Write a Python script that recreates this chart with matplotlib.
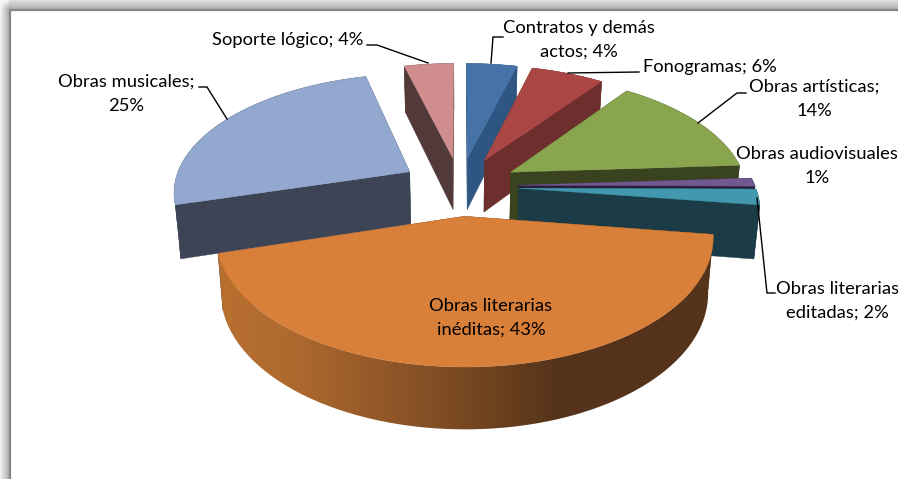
import numpy as np
import matplotlib
matplotlib.use("Agg")
import matplotlib.pyplot as plt
from matplotlib.patches import Polygon

# values in chart order, clockwise from 12 o'clock
categories = ["Contratos y demás actos", "Fonogramas", "Obras artísticas",
              "Obras audiovisuales", "Obras literarias editadas",
              "Obras literarias inéditas", "Obras musicales", "Soporte lógico"]
values = [4.1, 5.9, 14.0, 1.1, 2.1, 43.2, 25.5, 4.0]
labels = ["Contratos y demás\nactos; 4%", "Fonogramas; 6%", "Obras artísticas;\n14%",
          "Obras audiovisuales\n1%", "Obras literarias\neditadas; 2%",
          "Obras literarias\ninéditas; 43%", "Obras musicales;\n25%", "Soporte lógico; 4%"]
top_colors = ["#4572A7", "#AA4643", "#89A54E", "#71588F", "#4198AF", "#D87F3A", "#92A8CF", "#CF8E8D"]
wall_colors = ["#2F5683", "#6D2F2D", "#3A431F", "#2A1F3B", "#1B3B46", "#54331A", "#3D4456", "#533A3A"]

plt.rcParams['font.family'] = ['Lato', 'DejaVu Sans']

# projection of the 3d pie, pixels
cx, cy = 460, 186
rad_x, rad_y = 236, 117
persp, persp_h = 0.154, 0.12
height = 53
explode = 0.25


def project(x, y, depth=0.0):
    s = 1 / (1 + persp * y)
    sx = cx + rad_x * x * s
    sy = cy - rad_y * y * s
    if depth:
        sx = cx + (sx - cx) * (1 - 0.02 * depth)
        sy = sy + height * depth / (1 + persp_h * y)
    return sx, sy


fig = plt.figure(figsize=(8.98, 4.79), dpi=100)
ax = fig.add_axes([0, 0, 1, 1])

# gray shadow around the window
xx, yy = np.meshgrid(np.arange(898), np.arange(479))
left = np.clip(xx / 8, 0, 1)
top = np.clip(yy / 8, 0, 1)
gray = np.ones(xx.shape)
gray = np.where(xx < 9, 0.94 - 0.25 * left, gray)
gray = np.where((yy < 9) & (xx >= 9), 0.87 - 0.18 * top, gray)
gray = np.where((yy < 9) & (xx < 9), 0.96 - 0.27 * left * top, gray)
ax.imshow(gray, cmap="gray", vmin=0, vmax=1, extent=(0, 898, 479, 0), aspect="auto", zorder=0)
ax.plot([9.5, 9.5, 898], [479, 9.5, 9.5], color="#888888", lw=1.6, zorder=1)

total = sum(values)
edges = np.cumsum([0] + values) / total * 2 * np.pi
order = [7, 6, 0, 1, 2, 3, 4, 5]

# side of the big slice goes lighter left, dark right
stops_x = [220, 300, 400, 450, 560, 710]
stops_c = [(184, 112, 48), (172, 104, 46), (140, 84, 39), (125, 75, 34), (84, 51, 26), (84, 51, 26)]

z = 2
for i in order:
    a0, a1 = edges[i], edges[i + 1]
    mid = (a0 + a1) / 2
    ox, oy = explode * np.sin(mid), explode * np.cos(mid)
    t = np.linspace(a0, a1, max(int((a1 - a0) * 80), 4))
    arc_x = ox + np.sin(t)
    arc_y = oy + np.cos(t)

    # radial walls
    for ex, ey in [(arc_x[0], arc_y[0]), (arc_x[-1], arc_y[-1])]:
        p = [project(ox, oy), project(ex, ey), project(ex, ey, 1), project(ox, oy, 1)]
        ax.fill(*zip(*p), color=wall_colors[i], lw=0.3, zorder=z)

    # outer wall
    upper = [project(a, b) for a, b in zip(arc_x, arc_y)]
    lower = [project(a, b, 1) for a, b in zip(arc_x, arc_y)]
    wall = upper + lower[::-1]
    if i == 5:
        # gradient image clipped to the wall outline
        grad_x = np.arange(200, 740)
        grad = np.stack([np.interp(grad_x, stops_x, [c[k] for c in stops_c]) / 255 for k in range(3)], axis=1)
        im = ax.imshow(grad[np.newaxis, :, :], extent=(200, 740, 450, 200), aspect="auto", zorder=z)
        im.set_clip_path(Polygon(wall, transform=ax.transData))
    else:
        ax.fill(*zip(*wall), color=wall_colors[i], lw=0.3, zorder=z)

    # top
    top_pts = [project(ox, oy)] + upper
    ax.fill(*zip(*top_pts), color=top_colors[i], lw=0.3, zorder=z + 0.5)
    z += 1

# leader lines
leaders = [
    ([503, 493, 491], [37, 37, 63]),
    ([639, 568], [72, 73]),
    ([746, 737, 698], [93, 93, 123]),
    ([775, 767, 757], [293, 293, 198]),
    ([199, 207, 227], [87, 87, 119]),
    ([367, 377, 428], [45, 45, 63]),
]
for lx, ly in leaders:
    ax.plot(lx, ly, color="black", lw=1.0, zorder=20, solid_joinstyle="miter")

# label centres
label_pos = [(579, 40), (710, 67), (814, 99), (817, 166), (837.5, 301), (491, 318), (126, 94), (288, 40)]
for text, (lx, ly) in zip(labels, label_pos):
    ax.text(lx, ly, text, ha="center", va="center", fontsize=13.2, color="black",
            linespacing=1.62, zorder=21)

ax.set_xlim(0, 898)
ax.set_ylim(479, 0)
ax.axis("off")

fig.savefig("out.png", dpi=100)
